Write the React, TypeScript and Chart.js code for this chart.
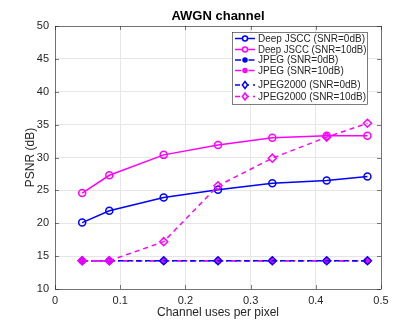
import React, { useEffect, useRef } from "react";
import { Chart, registerables } from "chart.js";

Chart.register(...registerables);

const channelUses = [0.0417, 0.0833, 0.1667, 0.25, 0.3333, 0.4167, 0.4792];
const deepJsccSnr0 = [20.1, 21.9, 23.9, 25.1, 26.1, 26.5, 27.1];
const deepJsccSnr10 = [24.6, 27.3, 30.4, 31.9, 33.0, 33.3, 33.3];
const jpegSnr0 = [14.3, 14.3, 14.3, 14.3, 14.3, 14.3, 14.3];
const jpegSnr10 = [14.3, 14.3, 14.3, 14.3, 14.3, 14.3, 14.3];
const jpeg2000Snr0 = [14.3, 14.3, 14.3, 14.3, 14.3, 14.3, 14.3];
const jpeg2000Snr10 = [14.3, 14.3, 17.2, 25.7, 29.9, 33.1, 35.2];

const seriesLabels = [
  "Deep JSCC (SNR=0dB)",
  "Deep JSCC (SNR=10dB)",
  "JPEG (SNR=0dB)",
  "JPEG (SNR=10dB)",
  "JPEG2000 (SNR=0dB)",
  "JPEG2000 (SNR=10dB)",
];
const xTicks = [0, 0.1, 0.2, 0.3, 0.4, 0.5];
const yTicks = [10, 15, 20, 25, 30, 35, 40, 45, 50];

const BLUE = "#0000ff";
const MAGENTA = "#ff00ff";
const FONT = "'Liberation Sans', Arial, Helvetica, sans-serif";
const TEXT = "#262626";

type Style = { color: string; dash: number[]; marker: string; filled: boolean; radius: number; legendRadius: number };
const styles: Style[] = [
  { color: BLUE, dash: [], marker: "circle", filled: false, radius: 3.5, legendRadius: 2.5 },
  { color: MAGENTA, dash: [], marker: "circle", filled: false, radius: 3.5, legendRadius: 2.5 },
  { color: BLUE, dash: [6, 3, 1.5, 3], marker: "circle", filled: true, radius: 2.5, legendRadius: 2 },
  { color: MAGENTA, dash: [6, 3, 1.5, 3], marker: "circle", filled: true, radius: 2.5, legendRadius: 2 },
  { color: BLUE, dash: [5, 4], marker: "rectRot", filled: false, radius: 4, legendRadius: 3.5 },
  { color: MAGENTA, dash: [5, 4], marker: "rectRot", filled: false, radius: 4, legendRadius: 3.5 },
];
const seriesValues = [deepJsccSnr0, deepJsccSnr10, jpegSnr0, jpegSnr10, jpeg2000Snr0, jpeg2000Snr10];

const decorPlugin = {
  id: "decor",
  afterDraw(chart: any) {
    const { ctx, chartArea: a } = chart;
    ctx.save();
    ctx.strokeStyle = "#262626";
    ctx.lineWidth = 0.6;
    ctx.strokeRect(a.left + 0.5, a.top + 0.5, a.right - a.left, a.bottom - a.top);
    const xs = chart.scales.x;
    const ys = chart.scales.y;
    ctx.beginPath();
    xTicks.forEach((t) => {
      const px = Math.round(xs.getPixelForValue(t)) + 0.5;
      ctx.moveTo(px, a.bottom);
      ctx.lineTo(px, a.bottom - 4);
      ctx.moveTo(px, a.top);
      ctx.lineTo(px, a.top + 4);
    });
    yTicks.forEach((t) => {
      const py = Math.round(ys.getPixelForValue(t)) + 0.5;
      ctx.moveTo(a.left, py);
      ctx.lineTo(a.left + 4, py);
      ctx.moveTo(a.right, py);
      ctx.lineTo(a.right - 4, py);
    });
    ctx.stroke();

    ctx.fillStyle = "#000";
    ctx.font = `bold 13px ${FONT}`;
    ctx.textAlign = "center";
    ctx.textBaseline = "middle";
    ctx.fillText("AWGN channel", (a.left + a.right) / 2, 16);
    ctx.fillStyle = TEXT;
    ctx.font = `12px ${FONT}`;
    ctx.fillText("Channel uses per pixel", (a.left + a.right) / 2, 313);
    ctx.save();
    ctx.translate(31, (a.top + a.bottom) / 2);
    ctx.rotate(-Math.PI / 2);
    ctx.fillText("PSNR (dB)", 0, 0);
    ctx.restore();

    const lx = 232.5, ly = 32.5, lw = 135, lh = 72;
    ctx.fillStyle = "#fff";
    ctx.fillRect(lx, ly, lw, lh);
    ctx.strokeStyle = "#262626";
    ctx.lineWidth = 0.6;
    ctx.strokeRect(lx, ly, lw, lh);
    const rows = [38.5, 49.5, 60, 70.5, 85, 96.5];
    ctx.font = `10px ${FONT}`;
    ctx.textAlign = "left";
    ctx.textBaseline = "middle";
    styles.forEach((s, i) => {
      const y = rows[i];
      ctx.strokeStyle = s.color;
      ctx.lineWidth = 1.5;
      ctx.setLineDash(s.dash);
      ctx.beginPath();
      ctx.moveTo(235, y);
      ctx.lineTo(255, y);
      ctx.stroke();
      ctx.setLineDash([]);
      ctx.beginPath();
      const r = s.legendRadius;
      if (s.marker === "circle") {
        ctx.arc(245, y, r, 0, Math.PI * 2);
      } else {
        ctx.moveTo(245, y - r);
        ctx.lineTo(245 + r * 0.75, y);
        ctx.lineTo(245, y + r);
        ctx.lineTo(245 - r * 0.75, y);
        ctx.closePath();
      }
      ctx.fillStyle = s.filled ? s.color : "#fff";
      ctx.fill();
      ctx.stroke();
      ctx.fillStyle = TEXT;
      const maxW = lx + lw - 259;
      const w = ctx.measureText(seriesLabels[i]).width;
      if (w > maxW) {
        ctx.save();
        ctx.translate(258, y + 0.5);
        ctx.scale(maxW / w, 1);
        ctx.fillText(seriesLabels[i], 0, 0);
        ctx.restore();
      } else {
        ctx.fillText(seriesLabels[i], 258, y + 0.5);
      }
    });
    ctx.restore();
  },
};

export default function App() {
  const ref = useRef<HTMLCanvasElement | null>(null);
  useEffect(() => {
    if (!ref.current) return;
    const datasets = seriesValues.map((vals, i) => {
      const s = styles[i];
      return {
        label: seriesLabels[i],
        data: vals.map((v, j) => ({ x: channelUses[j], y: v })),
        borderColor: s.color,
        backgroundColor: s.filled ? s.color : "rgba(0,0,0,0)",
        pointBackgroundColor: s.filled ? s.color : "rgba(0,0,0,0)",
        pointBorderColor: s.color,
        borderWidth: 1.5,
        pointBorderWidth: 1.5,
        pointRadius: s.radius,
        pointStyle: s.marker,
        borderDash: s.dash,
        tension: 0,
        fill: false,
        order: 5 - i,
      };
    });
    const chart = new Chart(ref.current, {
      type: "line",
      data: { datasets },
      options: {
        animation: false,
        responsive: false,
        maintainAspectRatio: false,
        layout: { padding: { top: 26, right: 35, left: 0, bottom: 0 } },
        plugins: { legend: { display: false }, title: { display: false }, tooltip: { enabled: false } },
        scales: {
          x: {
            type: "linear",
            min: 0,
            max: 0.5,
            afterBuildTicks: (s: any) => { s.ticks = xTicks.map((v) => ({ value: v })); },
            afterFit: (s: any) => { s.height = 34; },
            ticks: { color: TEXT, font: { size: 11, family: FONT }, padding: 5, maxRotation: 0, callback: (v: any) => String(v) },
            grid: { color: "#e6e6e6", drawTicks: false, lineWidth: 1 },
            border: { display: false },
          },
          y: {
            type: "linear",
            min: 10,
            max: 50,
            afterBuildTicks: (s: any) => { s.ticks = yTicks.map((v) => ({ value: v })); },
            afterFit: (s: any) => { s.width = 55; },
            ticks: { color: TEXT, font: { size: 11, family: FONT }, padding: 6, callback: (v: any) => String(v) },
            grid: { color: "#e6e6e6", drawTicks: false, lineWidth: 1 },
            border: { display: false },
          },
        },
      },
      plugins: [decorPlugin],
    } as any);
    return () => chart.destroy();
  }, []);
  return (
    <div style={{ position: "fixed", left: 0, top: 0, width: 416, height: 323, background: "#fff" }}>
      <canvas ref={ref} width={416} height={323} style={{ display: "block" }} />
    </div>
  );
}
